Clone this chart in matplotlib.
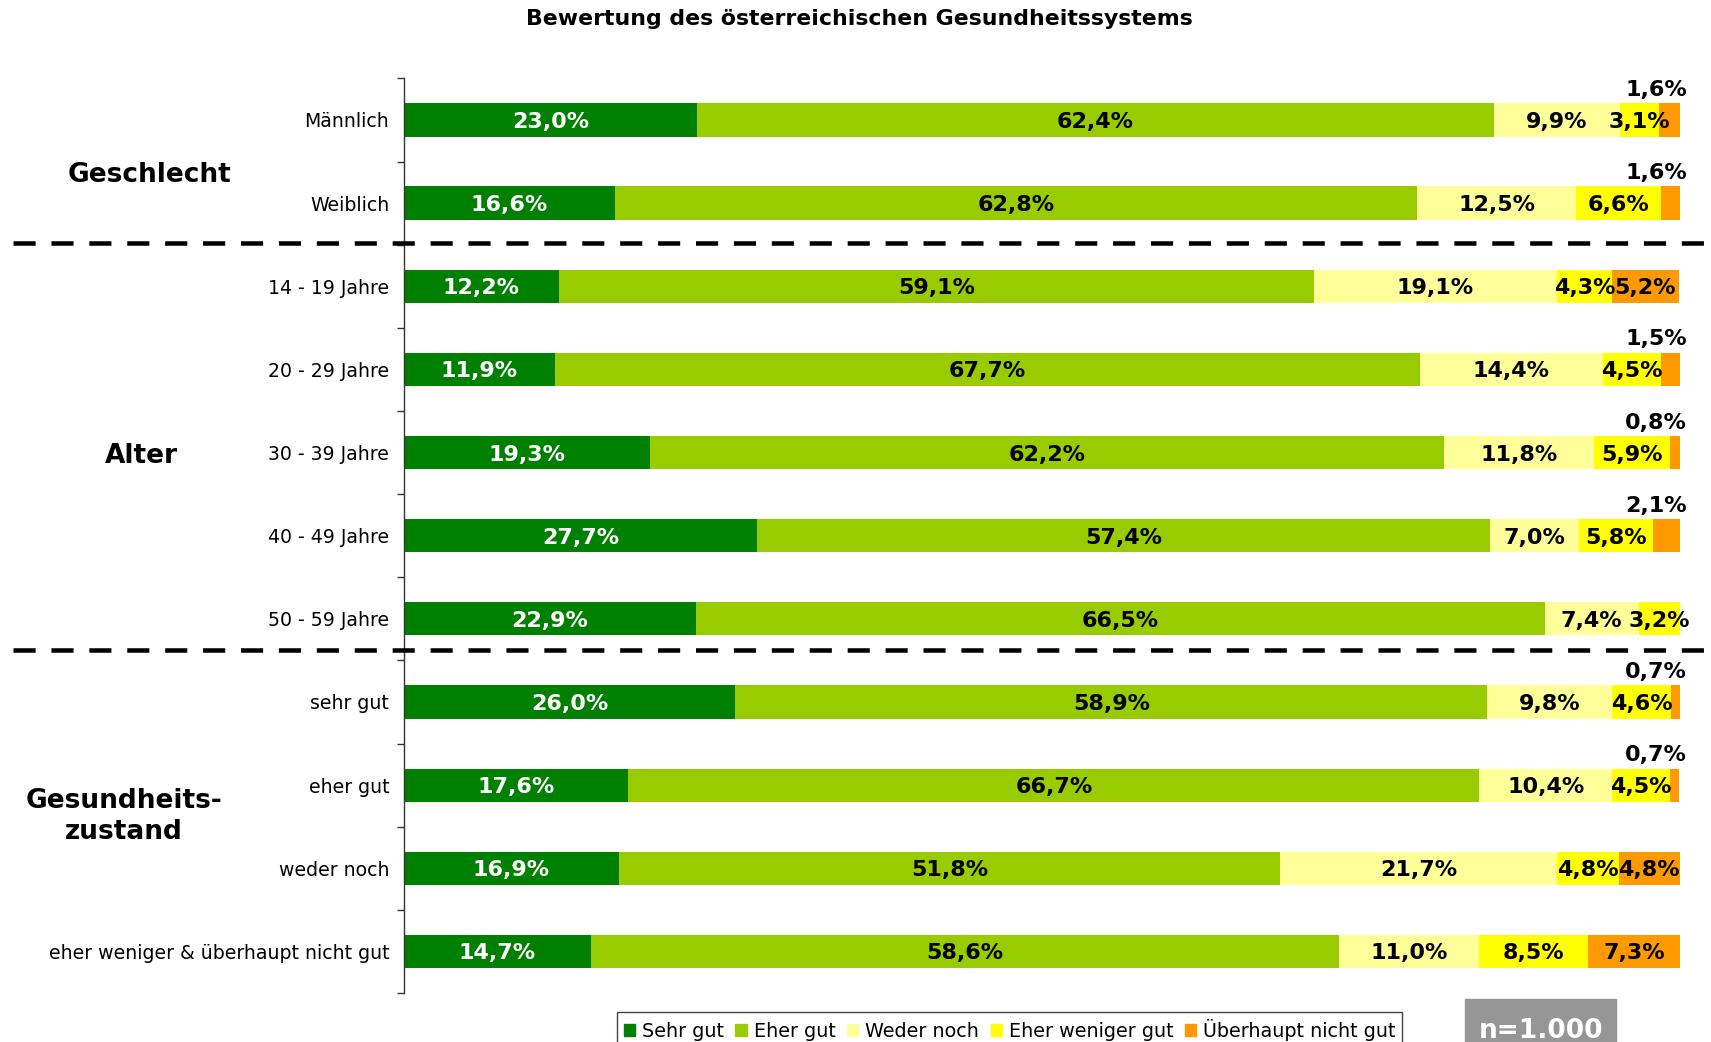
import numpy as np
import matplotlib.pyplot as plt
import matplotlib.patches as mpatches
from matplotlib.lines import Line2D
from matplotlib.transforms import blended_transform_factory

# rows, top to bottom
categories = ["Männlich", "Weiblich",
              "14 - 19 Jahre", "20 - 29 Jahre", "30 - 39 Jahre", "40 - 49 Jahre", "50 - 59 Jahre",
              "sehr gut", "eher gut", "weder noch", "eher weniger & überhaupt nicht gut"]

sehr_gut = [23.0, 16.6, 12.2, 11.9, 19.3, 27.7, 22.9, 26.0, 17.6, 16.9, 14.7]
eher_gut = [62.4, 62.8, 59.1, 67.7, 62.2, 57.4, 66.5, 58.9, 66.7, 51.8, 58.6]
weder_noch = [9.9, 12.5, 19.1, 14.4, 11.8, 7.0, 7.4, 9.8, 10.4, 21.7, 11.0]
eher_weniger = [3.1, 6.6, 4.3, 4.5, 5.9, 5.8, 3.2, 4.6, 4.5, 4.8, 8.5]
nicht_gut = [1.6, 1.6, 5.2, 1.5, 0.8, 2.1, 0.0, 0.7, 0.7, 4.8, 7.3]

series_names = ["Sehr gut", "Eher gut", "Weder noch", "Eher weniger gut", "Überhaupt nicht gut"]
series_colors = ["#008000", "#99CC00", "#FFFF99", "#FFFF00", "#FF9900"]
label_colors = ["white", "black", "black", "black", "black"]

fig = plt.figure(figsize=(17.11, 10.42), dpi=100)
ax = fig.add_axes([0.2359, 0.047, 0.7459, 0.8778])

y = np.arange(len(categories)) + 0.5
left = np.zeros(len(categories))
for vals, name, col, tcol in zip([sehr_gut, eher_gut, weder_noch, eher_weniger, nicht_gut],
                                 series_names, series_colors, label_colors):
    vals = np.array(vals)
    ax.barh(y, vals, left=left, height=0.4, color=col, label=name)
    for yi, l, v in zip(y, left, vals):
        if v == 0:
            continue
        txt = f"{v:.1f}%".replace(".", ",")
        if v < 2.5:
            # small values go above the bar end
            ax.text(100.55, yi - 0.385, txt, ha="right", va="center_baseline",
                    fontsize=16, fontweight="bold", color="black")
        else:
            ax.text(l + v / 2, yi, txt, ha="center", va="center_baseline",
                    fontsize=16, fontweight="bold", color=tcol)
    left += vals

ax.set_xlim(0, 100)
ax.set_ylim(len(categories), 0)
ax.set_xticks([])
ax.set_yticks(np.arange(len(categories) + 1))
ax.set_yticklabels([])
ax.set_yticks(y, labels=categories, minor=True)
ax.tick_params(axis="y", which="major", length=5, width=1, color="#333333", direction="out")
ax.tick_params(axis="y", which="minor", length=0, pad=10.4, labelsize=13.6)
for s in ["top", "right", "bottom"]:
    ax.spines[s].set_visible(False)
ax.spines["left"].set_color("#333333")
ax.spines["left"].set_linewidth(1)

# dashed separators between groups
tr = blended_transform_factory(fig.transFigure, ax.transData)
for yd in [1.976, 6.88]:
    fig.add_artist(Line2D([0.0076, 1.0], [yd, yd], transform=tr, color="black",
                          lw=3.25, dashes=(4.9, 3.5), solid_capstyle="butt"))

# group labels
fig.text(0.0874, 0.8253, "Geschlecht", ha="center", va="baseline", fontsize=19, fontweight="bold")
fig.text(0.0829, 0.556, "Alter", ha="center", va="baseline", fontsize=19, fontweight="bold")
fig.text(0.0722, 0.2246, "Gesundheits-", ha="center", va="baseline", fontsize=19, fontweight="bold")
fig.text(0.0722, 0.1948, "zustand", ha="center", va="baseline", fontsize=19, fontweight="bold")

fig.text(0.502, 0.982, "Bewertung des österreichischen Gesundheitssystems",
         ha="center", va="center", fontsize=15.8, fontweight="bold")

handles = [mpatches.Patch(color=c, label=n) for c, n in zip(series_colors, series_names)]
leg = fig.legend(handles=handles, loc="upper left", bbox_to_anchor=(0.3606, 0.0288), ncol=5,
                 fontsize=13.8, frameon=True, fancybox=False, edgecolor="#444444", framealpha=1,
                 borderpad=0.35, handlelength=0.6, handleheight=0.6, handletextpad=0.35,
                 columnspacing=0.6, borderaxespad=0)
leg.get_frame().set_linewidth(1)

fig.add_artist(mpatches.Rectangle((0.8565, -0.01), 0.088, 0.0517, transform=fig.transFigure,
                                  color="#969696"))
fig.text(0.9006, 0.023, "n=1.000", ha="center", va="top", fontsize=19, fontweight="bold",
         color="white")

fig.savefig("out.png", dpi=100)
